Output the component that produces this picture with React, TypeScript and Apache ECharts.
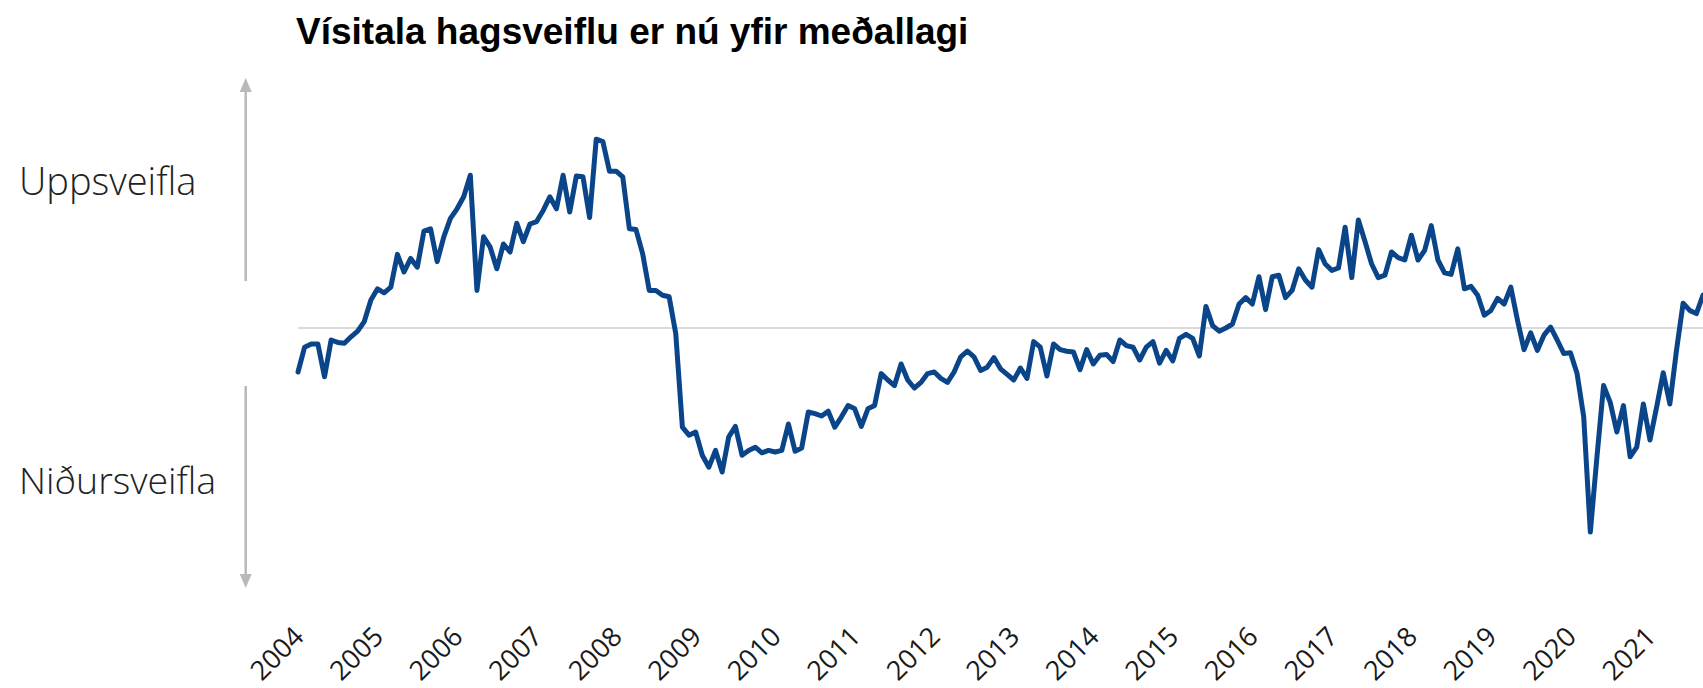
import React, { useEffect, useRef } from "react";
import * as echarts from "echarts";

const titleText = "Vísitala hagsveiflu er nú yfir meðallagi";
const upLabel = "Uppsveifla";
const downLabel = "Niðursveifla";

const years = [
  "2004", "2005", "2006", "2007", "2008", "2009", "2010", "2011", "2012",
  "2013", "2014", "2015", "2016", "2017", "2018", "2019", "2020", "2021",
];

// Monthly index values, Jan 2004 – Sep 2021
const v2004 = [-0.55, -0.24, -0.2, -0.2, -0.61, -0.15, -0.18, -0.19, -0.11, -0.04, 0.08, 0.35];
const v2005 = [0.49, 0.44, 0.51, 0.92, 0.7, 0.87, 0.76, 1.21, 1.24, 0.83, 1.14, 1.37];
const v2006 = [1.49, 1.64, 1.91, 0.47, 1.14, 1.01, 0.74, 1.05, 0.95, 1.31, 1.08, 1.3];
const v2007 = [1.33, 1.47, 1.64, 1.49, 1.91, 1.45, 1.9, 1.89, 1.38, 2.36, 2.33, 1.96];
const v2008 = [1.96, 1.89, 1.24, 1.23, 0.93, 0.47, 0.47, 0.41, 0.39, -0.07, -1.24, -1.34];
const v2009 = [-1.3, -1.59, -1.74, -1.53, -1.8, -1.36, -1.23, -1.59, -1.53, -1.49, -1.56, -1.53];
const v2010 = [-1.55, -1.53, -1.2, -1.54, -1.5, -1.05, -1.07, -1.1, -1.04, -1.24, -1.11, -0.97];
const v2011 = [-1.01, -1.23, -1.01, -0.97, -0.57, -0.65, -0.72, -0.45, -0.65, -0.75, -0.68, -0.57];
const v2012 = [-0.55, -0.63, -0.68, -0.55, -0.36, -0.29, -0.36, -0.53, -0.49, -0.37, -0.51, -0.58];
const v2013 = [-0.65, -0.5, -0.63, -0.17, -0.24, -0.6, -0.2, -0.27, -0.29, -0.3, -0.52, -0.27];
const v2014 = [-0.45, -0.34, -0.33, -0.42, -0.15, -0.22, -0.24, -0.4, -0.24, -0.17, -0.44, -0.28];
const v2015 = [-0.41, -0.13, -0.08, -0.13, -0.35, 0.27, 0.03, -0.04, 0.0, 0.05, 0.3, 0.38];
const v2016 = [0.3, 0.64, 0.23, 0.64, 0.66, 0.38, 0.47, 0.74, 0.6, 0.51, 0.98, 0.8];
const v2017 = [0.72, 0.75, 1.26, 0.63, 1.35, 1.08, 0.8, 0.63, 0.66, 0.95, 0.88, 0.85];
const v2018 = [1.16, 0.85, 0.97, 1.28, 0.85, 0.69, 0.67, 0.99, 0.49, 0.52, 0.41, 0.16];
const v2019 = [0.22, 0.37, 0.3, 0.51, 0.1, -0.27, -0.06, -0.28, -0.09, 0.01, -0.15, -0.32];
const v2020 = [-0.31, -0.57, -1.11, -2.55, -1.61, -0.72, -0.93, -1.3, -0.97, -1.61, -1.49, -0.95];
const v2021 = [-1.4, -0.99, -0.56, -0.95, -0.28, 0.31, 0.22, 0.18, 0.41];

const yearValues = [
  v2004, v2005, v2006, v2007, v2008, v2009, v2010, v2011, v2012,
  v2013, v2014, v2015, v2016, v2017, v2018, v2019, v2020, v2021,
];

export default function App() {
  const ref = useRef<HTMLDivElement>(null);

  useEffect(() => {
    if (!ref.current) return;
    const chart = echarts.init(ref.current, null, { renderer: "svg" });

    const categories: string[] = [];
    const values: number[] = [];
    yearValues.forEach((arr, yi) => {
      arr.forEach((v, mi) => {
        categories.push(years[yi] + "-" + String(mi + 1).padStart(2, "0"));
        values.push(v);
      });
    });

    const arrowColor = "#b9b9b9";
    const ax = 245.7;

    chart.setOption({
      animation: false,
      backgroundColor: "#ffffff",
      grid: { left: 298, right: 0, top: 88, height: 480, containLabel: false },
      xAxis: {
        type: "category",
        boundaryGap: false,
        data: categories,
        axisLine: { show: false },
        axisTick: { show: false },
        splitLine: { show: false },
        axisLabel: {
          interval: (idx: number) => idx % 12 === 0,
          formatter: (val: string) => val.slice(0, 4),
          rotate: 45,
          margin: 63,
          fontSize: 27,
          fontFamily: "Open Sans",
          color: "#1a1a1a",
        },
      },
      yAxis: {
        type: "value",
        min: -3,
        max: 3,
        interval: 3,
        show: false,
        splitLine: { show: false },
      },
      series: [
        {
          type: "line",
          data: values,
          symbol: "none",
          smooth: false,
          clip: false,
          lineStyle: { color: "#0b4589", width: 5, join: "round", cap: "round" },
          markLine: {
            silent: true,
            symbol: "none",
            label: { show: false },
            lineStyle: { color: "#dadada", width: 2, type: "solid" },
            data: [{ yAxis: 0 }],
            z: 1,
          },
          z: 3,
        },
      ],
      graphic: [
        {
          type: "text",
          x: 296,
          y: 31,
          style: {
            text: titleText,
            fontFamily: "Liberation Sans",
            fontWeight: "bold",
            fontSize: 37,
            fill: "#000000",
            verticalAlign: "middle",
          },
        },
        {
          type: "text",
          x: 19,
          y: 180,
          style: {
            text: upLabel,
            fontFamily: "Open Sans",
            fontWeight: 300,
            fontSize: 38,
            fill: "#222222",
            verticalAlign: "middle",
          },
        },
        {
          type: "text",
          x: 19,
          y: 479,
          style: {
            text: downLabel,
            fontFamily: "Open Sans",
            fontWeight: 300,
            fontSize: 37.5,
            fill: "#222222",
            verticalAlign: "middle",
          },
        },
        {
          type: "line",
          shape: { x1: ax, y1: 88, x2: ax, y2: 281 },
          style: { stroke: arrowColor, lineWidth: 2.5 },
        },
        {
          type: "polygon",
          shape: { points: [[ax, 78], [ax - 6, 92], [ax + 6, 92]] },
          style: { fill: arrowColor },
        },
        {
          type: "line",
          shape: { x1: ax, y1: 386, x2: ax, y2: 578 },
          style: { stroke: arrowColor, lineWidth: 2.5 },
        },
        {
          type: "polygon",
          shape: { points: [[ax, 588], [ax - 6, 574], [ax + 6, 574]] },
          style: { fill: arrowColor },
        },
      ],
    });

    return () => chart.dispose();
  }, []);

  return (
    <div
      ref={ref}
      style={{ position: "absolute", left: 0, top: 0, width: 1703, height: 688 }}
    />
  );
}
